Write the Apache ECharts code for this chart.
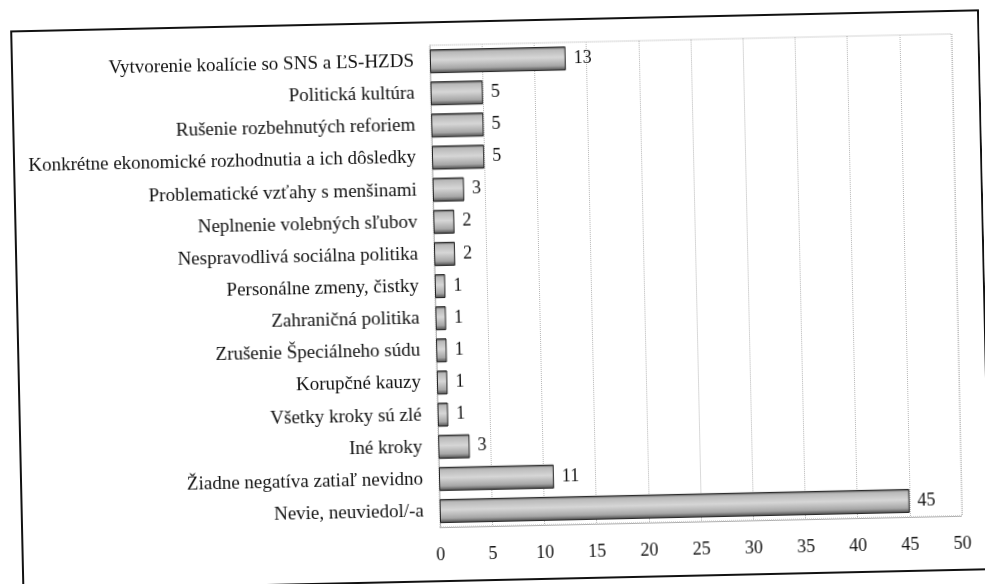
<!DOCTYPE html>
<html>
<head>
<meta charset="utf-8">
<script src="https://cdn.jsdelivr.net/npm/echarts@6/dist/echarts.min.js"></script>
<style>
  html, body { margin: 0; padding: 0; background: #fff; overflow: hidden; }
  /* scanned page is slightly tilted */
  #chart { width: 985px; height: 584px; transform: rotate(-1.25deg); transform-origin: 50% 50%; }
</style>
</head>
<body>
<div id="chart"></div>
<script>
var categories = [
  "Vytvorenie koalície so SNS a ĽS-HZDS",
  "Politická kultúra",
  "Rušenie rozbehnutých reforiem",
  "Konkrétne ekonomické rozhodnutia a ich dôsledky",
  "Problematické vzťahy s menšinami",
  "Neplnenie volebných sľubov",
  "Nespravodlivá sociálna politika",
  "Personálne zmeny, čistky",
  "Zahraničná politika",
  "Zrušenie Špeciálneho súdu",
  "Korupčné kauzy",
  "Všetky kroky sú zlé",
  "Iné kroky",
  "Žiadne negatíva zatiaľ nevidno",
  "Nevie, neuviedol/-a"
];
var values = [13, 5, 5, 5, 3, 2, 2, 1, 1, 1, 1, 1, 3, 11, 45];
var xTicks = [0, 50, 5]; // min, max, interval

var myChart = echarts.init(document.getElementById("chart"));
var font = "'Liberation Serif', 'DejaVu Serif', serif";

var option = {
  backgroundColor: "#fff",
  animation: false,
  textStyle: { fontFamily: font },
  graphic: [
    {
      type: "rect",
      shape: { x: 17, y: 21, width: 967, height: 559 },
      style: { fill: "none", stroke: "#111", lineWidth: 2 },
      silent: true
    }
  ],
  grid: {
    left: 435,
    right: 28,
    top: 44,
    bottom: 58,
    show: true,
    borderColor: "#aaa",
    borderWidth: 1,
    borderType: "dotted"
  },
  xAxis: {
    type: "value",
    min: xTicks[0],
    max: xTicks[1],
    interval: xTicks[2],
    axisLine: { show: true, lineStyle: { color: "#aaa", type: "dotted" } },
    axisTick: { show: false },
    splitLine: { show: true, lineStyle: { color: "#b5b5b5", type: "dotted" } },
    axisLabel: { color: "#111", fontSize: 18, margin: 19, fontFamily: font }
  },
  yAxis: {
    type: "category",
    inverse: true,
    data: categories,
    axisLine: { show: true, lineStyle: { color: "#aaa", type: "dotted" } },
    axisTick: { show: false },
    axisLabel: { color: "#111", fontSize: 19, margin: 16, fontFamily: font }
  },
  series: [
    {
      type: "bar",
      data: values,
      barWidth: 24,
      itemStyle: {
        color: {
          type: "linear",
          x: 0, y: 0, x2: 0, y2: 1,
          colorStops: [
            { offset: 0, color: "#3a3a3a" },
            { offset: 0.12, color: "#b8b8b8" },
            { offset: 0.45, color: "#d6d6d6" },
            { offset: 0.8, color: "#a6a6a6" },
            { offset: 1, color: "#454545" }
          ]
        },
        borderColor: "#222",
        borderWidth: 1
      },
      label: {
        show: true,
        position: "right",
        distance: 8,
        color: "#111",
        fontSize: 18,
        fontFamily: font
      }
    }
  ]
};

myChart.setOption(option);
</script>
</body>
</html>
